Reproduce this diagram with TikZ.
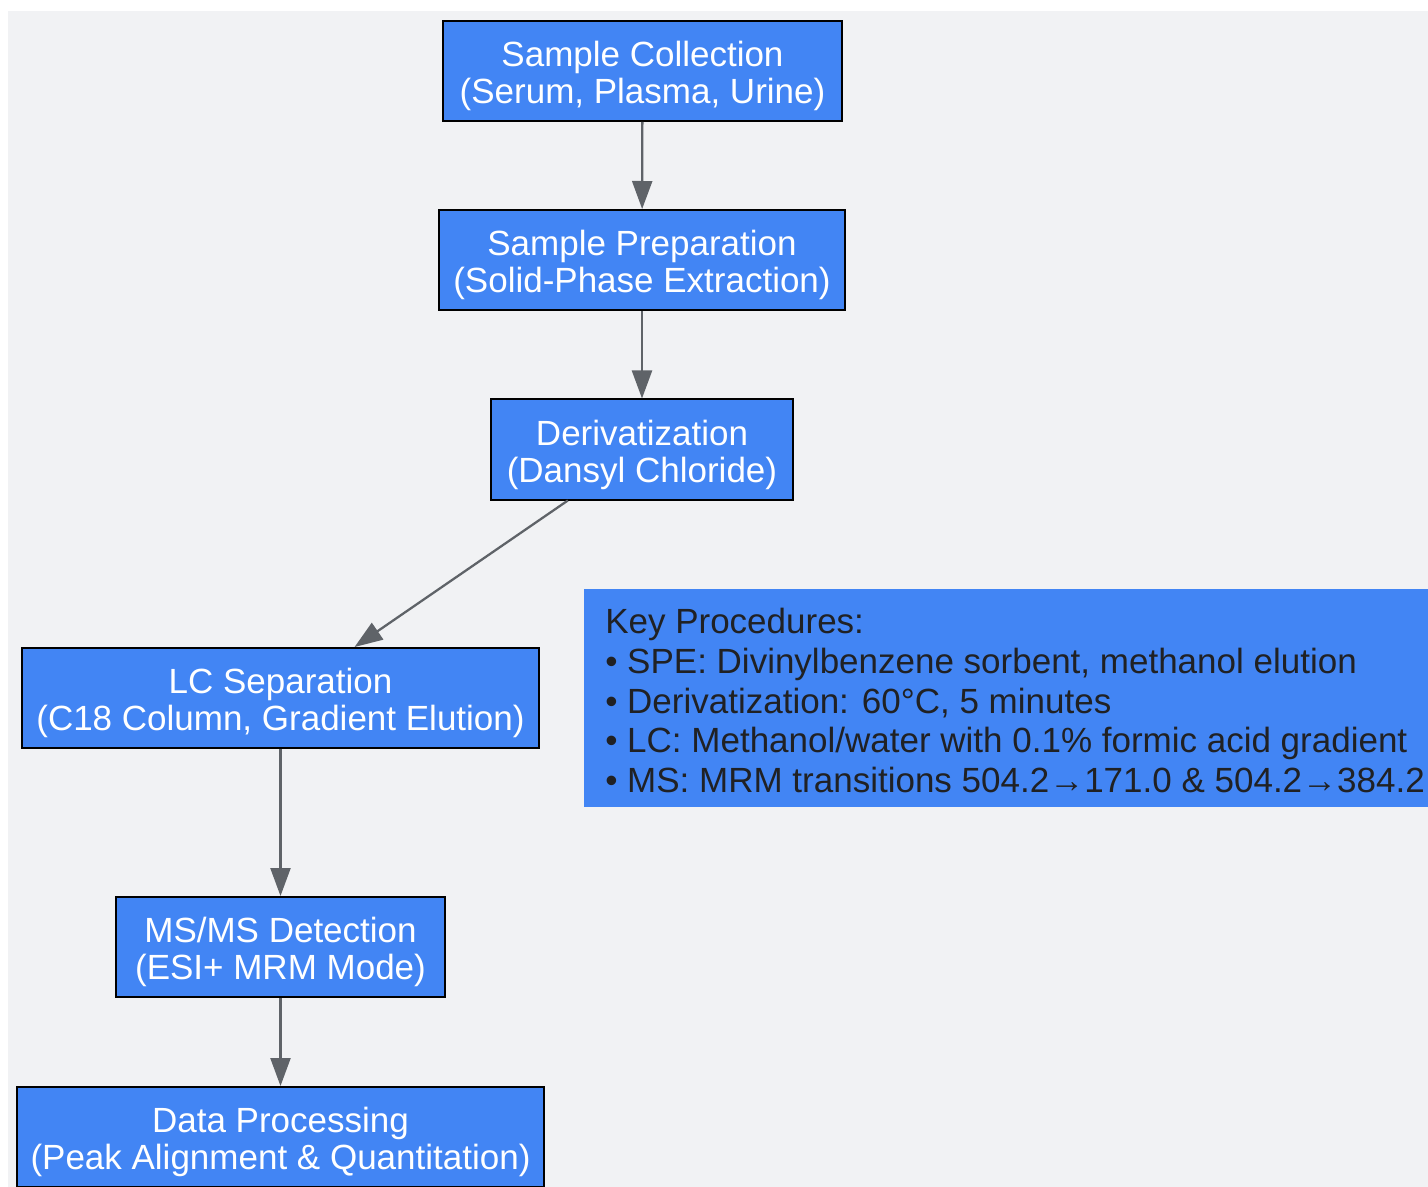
\documentclass[tikz,border=0pt]{standalone}
\usepackage{fontspec}
\setmainfont{Liberation Sans}
\usetikzlibrary{arrows.meta}
\definecolor{boxblue}{HTML}{4285F4}
\definecolor{bggray}{HTML}{F1F2F4}
\definecolor{edgegray}{HTML}{5F6368}
\definecolor{inkdark}{HTML}{202124}
\begin{document}
\begin{tikzpicture}
  [x=0.75pt,y=-0.75pt,
   stage/.style={shape=rectangle, draw=black, line width=1.5pt, fill=boxblue,
     text=white, align=center, minimum height=75pt, inner xsep=8pt,
     font=\fontsize{26.25}{27.75}\selectfont,
     execute at begin node=\rule{0pt}{54.5pt}},
   keybox/.style={shape=rectangle, fill=boxblue, text=inkdark, align=left,
     anchor=north west, minimum width=640pt, minimum height=163pt,
     inner xsep=15.75pt, inner ysep=9pt,
     font=\fontsize{26.25}{29.7}\selectfont,
     execute at begin node=\rule{0pt}{141.8pt}}]
  \useasboundingbox (0,0) rectangle (1428,1187);
  \clip (0,0) rectangle (1428,1187);
  \fill[bggray] (8,11) rectangle (1440,1200);
  \node[stage, minimum width=299pt] (SC) at (642.5,71) {Sample Collection\\(Serum, Plasma, Urine)};
  \node[stage, minimum width=304.5pt] (SP) at (642,260) {Sample Preparation\\(Solid-Phase Extraction)};
  \node[stage, minimum width=226.5pt] (DZ) at (642,449.5) {Derivatization\\(Dansyl Chloride)};
  \node[stage, minimum width=387.75pt] (LC) at (280.5,698) {LC Separation\\(C18 Column, Gradient Elution)};
  \node[stage, minimum width=246.75pt] (MS) at (280.5,947) {MS/MS Detection\\(ESI+ MRM Mode)};
  \node[stage, minimum width=395.25pt] (DP) at (280.5,1137) {Data Processing\\(Peak Alignment \& Quantitation)};
  \node[keybox] (key) at (584,589) {Key Procedures:\\
    • SPE: Divinylbenzene sorbent, methanol elution\\
    • Derivatization: 60°C, 5 minutes\\
    • LC: Methanol/water with 0.1\% formic acid gradient\\
    • MS: MRM transitions 504.2→171.0 \& 504.2→384.2};
  \begin{scope}[edgegray, line width=1.7pt, -{Triangle[length=21pt, width=15pt]}]
  \foreach \from/\to in {SC/SP,SP/DZ,DZ/LC,LC/MS,MS/DP}
     \draw (\from) -- (\to);
  \end{scope}
\end{tikzpicture}
\end{document}
